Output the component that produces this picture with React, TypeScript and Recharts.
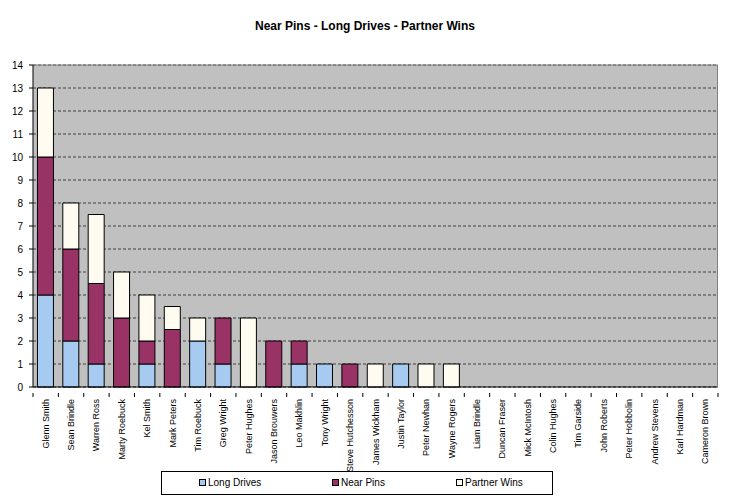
import React from 'react';
import { Bar, BarChart, CartesianGrid, XAxis, YAxis, ReferenceLine } from 'recharts';

const players = [
  'Glenn Smith', 'Sean Brindle', 'Warren Ross', 'Marty Roebuck', 'Kel Smith', 'Mark Peters',
  'Tim Roebuck', 'Greg Wright', 'Peter Hughes', 'Jason Brouwers', 'Leo Makhlin', 'Tony Wright',
  'Steve Hutchesson', 'James Wickham', 'Justin Taylor', 'Peter Newhan', 'Wayne Rogers',
  'Liam Brindle', 'Duncan Fraser', 'Mick McIntosh', 'Colin Hughes', 'Tim Garside',
  'John Roberts', 'Peter Hobbolin', 'Andrew Stevens', 'Karl Hardman', 'Cameron Brown',
];
const longDrives = [4, 2, 1, 0, 1, 0, 2, 1, 0, 0, 1, 1, 0, 0, 1, 0, 0, 0, 0, 0, 0, 0, 0, 0, 0, 0, 0];
const nearPins = [6, 4, 3.5, 3, 1, 2.5, 0, 2, 0, 2, 1, 0, 1, 0, 0, 0, 0, 0, 0, 0, 0, 0, 0, 0, 0, 0, 0];
const partnerWins = [3, 2, 3, 2, 2, 1, 1, 0, 3, 0, 0, 0, 0, 1, 0, 1, 1, 0, 0, 0, 0, 0, 0, 0, 0, 0, 0];
const yTicks = [0, 1, 2, 3, 4, 5, 6, 7, 8, 9, 10, 11, 12, 13, 14];

const SERIES = [
  { key: 'longDrives', name: 'Long Drives', color: '#A6CAF0' },
  { key: 'nearPins', name: 'Near Pins', color: '#993366' },
  { key: 'partnerWins', name: 'Partner Wins', color: '#FFFBF0' },
];

const FONT = '"Liberation Sans", Arial, sans-serif';
const W = 730;
const H = 499;
const M = { top: 65, right: 12, left: 0, bottom: 0 };
const Y_W = 33;
const X_H = 112;
const band = (W - M.right - M.left - Y_W) / players.length;

const data = players.map((name, i) => ({
  name,
  longDrives: longDrives[i],
  nearPins: nearPins[i],
  partnerWins: partnerWins[i],
}));

function NameTick(props: any) {
  const { x, y, payload, index } = props;
  const axisY = y - 2;
  return (
    <g>
      <line x1={x - band / 2} x2={x - band / 2} y1={axisY} y2={axisY + 4} stroke="#000" />
      {index === players.length - 1 && (
        <line x1={x + band / 2} x2={x + band / 2} y1={axisY} y2={axisY + 4} stroke="#000" />
      )}
      <text
        x={0}
        y={0}
        transform={`translate(${x + 3}, ${axisY + 6}) rotate(-90)`}
        textAnchor="end"
        fontSize={9}
        fontFamily={FONT}
        fill="#000"
      >
        {payload.value}
      </text>
    </g>
  );
}

export default function App() {
  return (
    <div style={{ position: 'absolute', left: 0, top: 0, width: W, height: H, background: '#fff', fontFamily: FONT }}>
      <div style={{ position: 'absolute', left: 0, top: 19, width: W, textAlign: 'center', fontSize: 12, fontWeight: 'bold' }}>
        Near Pins - Long Drives - Partner Wins
      </div>
      <BarChart width={W} height={H} data={data} margin={M} barCategoryGap="17.5%">
        <CartesianGrid vertical={false} stroke="#404040" strokeDasharray="3 2" fill="#C0C0C0" />
        <XAxis
          dataKey="name"
          interval={0}
          height={X_H}
          axisLine={{ stroke: '#000' }}
          tickLine={false}
          tick={<NameTick />}
        />
        <YAxis
          domain={[0, 14]}
          ticks={yTicks}
          interval={0}
          width={Y_W}
          axisLine={{ stroke: '#000' }}
          tickLine={{ stroke: '#000' }}
          tickSize={4}
          tickMargin={6}
          tick={{ fontSize: 10, fontFamily: FONT, fill: '#000' }}
        />
        <ReferenceLine y={14} stroke="#808080" />
        {SERIES.map(s => (
          <Bar
            key={s.key}
            dataKey={s.key}
            name={s.name}
            stackId="a"
            fill={s.color}
            stroke="#000"
            strokeWidth={1}
            isAnimationActive={false}
          />
        ))}
      </BarChart>
      <div style={{ position: 'absolute', left: W - M.right - 1, top: M.top, width: 1, height: H - M.top - X_H, background: '#808080' }} />
      <div
        style={{
          position: 'absolute', left: 161, top: 471, width: 390, height: 22,
          border: '1px solid #000', boxSizing: 'content-box', fontSize: 10,
        }}
      >
        {SERIES.map((s, i) => (
          <div key={s.key} style={{ position: 'absolute', left: [37, 170, 294][i], top: 5, display: 'flex', alignItems: 'center' }}>
            <span style={{ width: 5, height: 5, background: s.color, border: '1px solid #000', display: 'inline-block', marginRight: 2 }} />
            <span>{s.name}</span>
          </div>
        ))}
      </div>
    </div>
  );
}
